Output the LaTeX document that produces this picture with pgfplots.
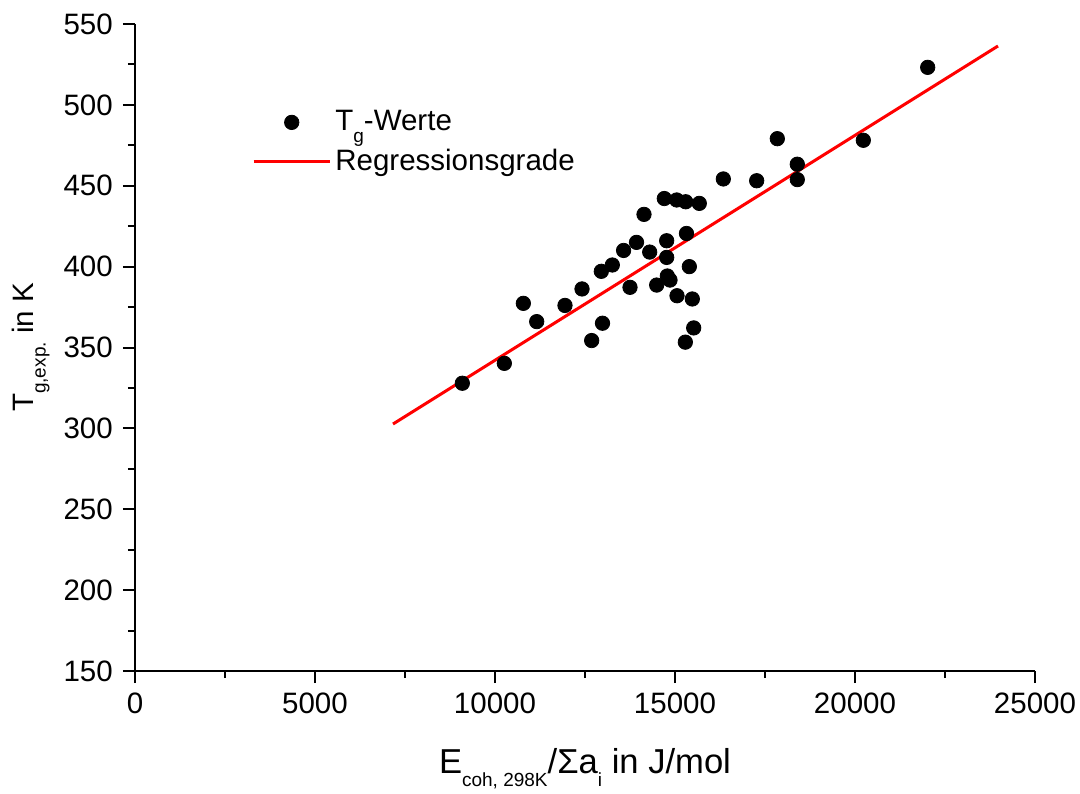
\documentclass[border=0pt]{standalone}
\usepackage{fontspec}
\setmainfont{Liberation Sans}
\usepackage{pgfplots}
\pgfplotsset{compat=1.18}
\usetikzlibrary{calc}

% low, small subscripts as in the original figure
\newcommand{\sub}[1]{\raisebox{-0.75ex}{\fontsize{9.5}{10}\selectfont #1}}

\pgfplotsset{
    markleg/.style={legend image code/.code={%
        \draw[mark repeat=2,mark phase=2,##1] plot coordinates {(0cm,0cm) (0.67cm,0cm) (1.34cm,0cm)};}},
    lineleg/.style={legend image code/.code={%
        \draw[##1] (0cm,0cm) -- (1.34cm,0cm);}},
}

\begin{document}
\fontsize{14.75}{17.7}\selectfont
\begin{tikzpicture}
\begin{axis}[
    name=ax,
    scale only axis,
    width=450pt, height=323.5pt,
    xmin=0, xmax=25000,
    ymin=150, ymax=550,
    xtick={0,5000,...,25000},
    ytick={150,200,...,550},
    minor x tick num=1,
    minor y tick num=1,
    axis lines=left,
    axis line style={-, line width=1.2pt},
    tick align=outside,
    major tick length=6pt,
    minor tick length=3.5pt,
    every tick/.style={black, line width=1pt},
    scaled x ticks=false,
    /pgf/number format/1000 sep={},
    /pgf/number format/assume math mode=true,
    tick label style={font=\fontsize{14.75}{17.7}\selectfont},
    xlabel={E\sub{coh, 298K}/Σa\sub{i} in J/mol},
    ylabel={T\sub{g,exp.} in K},
    xlabel style={font=\fontsize{17.3}{20}\selectfont, yshift=-7pt},
    ylabel style={font=\fontsize{14.75}{17.7}\selectfont},
    ylabel shift=-3pt,
    legend style={draw=none, fill=none, at={(0.123,0.88)}, anchor=north west,
        font=\fontsize{14.75}{17.7}\selectfont, row sep=3pt},
    legend cell align=left,
]
\addplot[only marks, mark=*, mark size=3.6pt, black, markleg]
coordinates {
    (9092,327.9) (10259,340.2) (10787,377.3) (11158,366) (11944,376)
    (12417,386.2) (12685,354.3) (12953,397.1) (12986,365) (13259,401)
    (13572,410) (13750,387.2) (13931,415) (14139,432.3) (14297,409)
    (14491,388.6) (14703,442.1) (14769,416) (14769,405.7) (14787,394.2)
    (14861,391.7) (15047,441.2) (15056,382) (15287,353.3) (15297,440.1)
    (15319,420.5) (15398,400) (15481,380) (15519,362.1) (15675,439.1)
    (16342,454.2) (17269,453.1) (17842,479.1) (18397,463.3) (18397,453.8)
    (20231,478.1) (22019,523.2)
};
\addlegendentry{T\sub{g}-Werte}
\addplot[red, line width=1.5pt, lineleg]
coordinates {(7167,302.7) (23972,536.4)};
\addlegendentry{Regressionsgrade}
\end{axis}
\pgfresetboundingbox
\path[use as bounding box] ($(ax.south west)+(-67.5pt,-61pt)$) rectangle ($(ax.south west)+(472.5pt,335.5pt)$);
\end{tikzpicture}
\end{document}
